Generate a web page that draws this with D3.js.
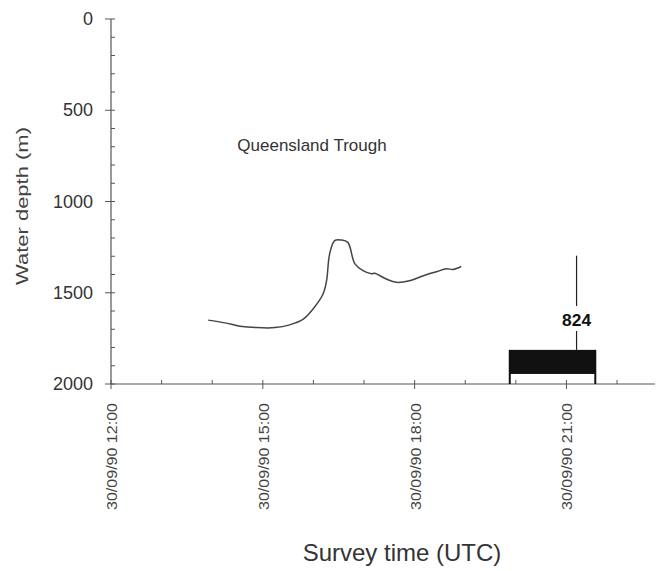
<!DOCTYPE html>
<meta charset="utf-8">
<script src="https://d3js.org/d3.v7.min.js"></script>
<style>
  body { margin: 0; background: #fff; }
  text { font-family: "Liberation Sans", Arial, sans-serif; fill: #333; }
</style>
<div id="chart"></div>
<script>
// survey track: hours after 30/09/90 00:00 UTC, water depth in m
var hours = [13.92, 14.25, 14.55, 14.88, 15.24, 15.53, 15.80, 15.99, 16.19, 16.26, 16.32, 16.42,
             16.55, 16.68, 16.82, 16.98, 17.15, 17.21, 17.44, 17.64, 17.90, 18.16, 18.43, 18.63,
             18.76, 18.92];
var depths = [1650, 1665, 1683, 1691, 1691, 1676, 1645, 1590, 1507, 1434, 1288, 1214,
              1211, 1224, 1342, 1379, 1396, 1393, 1425, 1443, 1434, 1408, 1385, 1369,
              1372, 1356];

// site 824 box: time span and depth span
var siteName = "824";
var siteTimes = [19.88, 21.57];
var siteDepths = [1813, 1945, 2000];
var siteMarker = {time: 21.2, top: 1297};

var xTicks = [12, 15, 18, 21];
var yTicks = [0, 500, 1000, 1500, 2000];

var W = 661, H = 571;
var svg = d3.select("#chart").append("svg")
  .attr("width", W).attr("height", H);

var x = d3.scaleLinear().domain([12, 22.75]).range([111, 655]);
var y = d3.scaleLinear().domain([0, 2000]).range([19, 384]);

var axisColor = "#555";

// y axis
svg.append("line")
  .attr("x1", x(12)).attr("x2", x(12))
  .attr("y1", y(0)).attr("y2", y(2000))
  .attr("stroke", axisColor).attr("stroke-width", 1.2);
svg.append("g").selectAll("line")
  .data(d3.range(0, 2001, 100))
  .join("line")
    .attr("x1", function(d) { return d % 500 === 0 ? x(12) - 6 : x(12); })
    .attr("x2", x(12) + 4)
    .attr("y1", d => y(d)).attr("y2", d => y(d))
    .attr("stroke", axisColor);
svg.append("g").selectAll("text")
  .data(yTicks)
  .join("text")
    .attr("x", 93).attr("y", d => y(d) + 6)
    .attr("text-anchor", "end")
    .attr("font-size", 18)
    .text(d => d);

// x axis
svg.append("line")
  .attr("x1", x(12)).attr("x2", 655)
  .attr("y1", y(2000)).attr("y2", y(2000))
  .attr("stroke", axisColor).attr("stroke-width", 1.2);
svg.append("g").selectAll("line")
  .data(d3.range(12, 23, 1))
  .join("line")
    .attr("x1", d => x(d)).attr("x2", d => x(d))
    .attr("y1", y(2000) - 4)
    .attr("y2", function(d) { return d % 3 === 0 ? y(2000) + 5 : y(2000); })
    .attr("stroke", axisColor);
svg.append("g").selectAll("text")
  .data(xTicks)
  .join("text")
    .attr("transform", d => "translate(" + (x(d) + 6) + "," + 403 + ") rotate(-90)")
    .attr("text-anchor", "end")
    .attr("font-size", 15)
    .attr("textLength", 107)
    .attr("lengthAdjust", "spacingAndGlyphs")
    .style("fill", "#444")
    .text(d => "30/09/90 " + d + ":00");

// axis titles
svg.append("text")
  .attr("transform", "translate(28,206) rotate(-90)")
  .attr("text-anchor", "middle")
  .attr("font-size", 17)
  .attr("textLength", 158)
  .attr("lengthAdjust", "spacingAndGlyphs")
  .style("fill", "#444")
  .text("Water depth (m)");
svg.append("text")
  .attr("x", 402).attr("y", 561)
  .attr("text-anchor", "middle")
  .attr("font-size", 24)
  .text("Survey time (UTC)");

svg.append("text")
  .attr("x", 312).attr("y", 151)
  .attr("text-anchor", "middle")
  .attr("font-size", 17)
  .text("Queensland Trough");

// depth profile
var track = hours.map((h, i) => ({t: h, d: depths[i]}));
svg.append("path")
  .datum(track)
  .attr("fill", "none")
  .attr("stroke", "#444")
  .attr("stroke-width", 1.5)
  .attr("d", d3.line().x(d => x(d.t)).y(d => y(d.d)).curve(d3.curveCatmullRom));

// site box
svg.append("rect")
  .attr("x", x(siteTimes[0])).attr("y", y(siteDepths[0]))
  .attr("width", x(siteTimes[1]) - x(siteTimes[0]))
  .attr("height", y(siteDepths[1]) - y(siteDepths[0]))
  .attr("fill", "#111");
svg.append("g").selectAll("line")
  .data(siteTimes)
  .join("line")
    .attr("x1", d => x(d)).attr("x2", d => x(d))
    .attr("y1", y(siteDepths[0])).attr("y2", y(siteDepths[2]))
    .attr("stroke", "#111").attr("stroke-width", 2);

// site marker line with label
svg.append("line")
  .attr("x1", x(siteMarker.time)).attr("x2", x(siteMarker.time))
  .attr("y1", y(siteMarker.top)).attr("y2", 306)
  .attr("stroke", "#222").attr("stroke-width", 1.2);
svg.append("line")
  .attr("x1", x(siteMarker.time)).attr("x2", x(siteMarker.time))
  .attr("y1", 331).attr("y2", y(siteDepths[0]))
  .attr("stroke", "#222").attr("stroke-width", 1.2);
svg.append("text")
  .attr("x", x(siteMarker.time)).attr("y", 326)
  .attr("text-anchor", "middle")
  .attr("font-size", 17)
  .attr("font-weight", "bold")
  .attr("textLength", 29)
  .attr("lengthAdjust", "spacingAndGlyphs")
  .style("fill", "#111")
  .text(siteName);
</script>
